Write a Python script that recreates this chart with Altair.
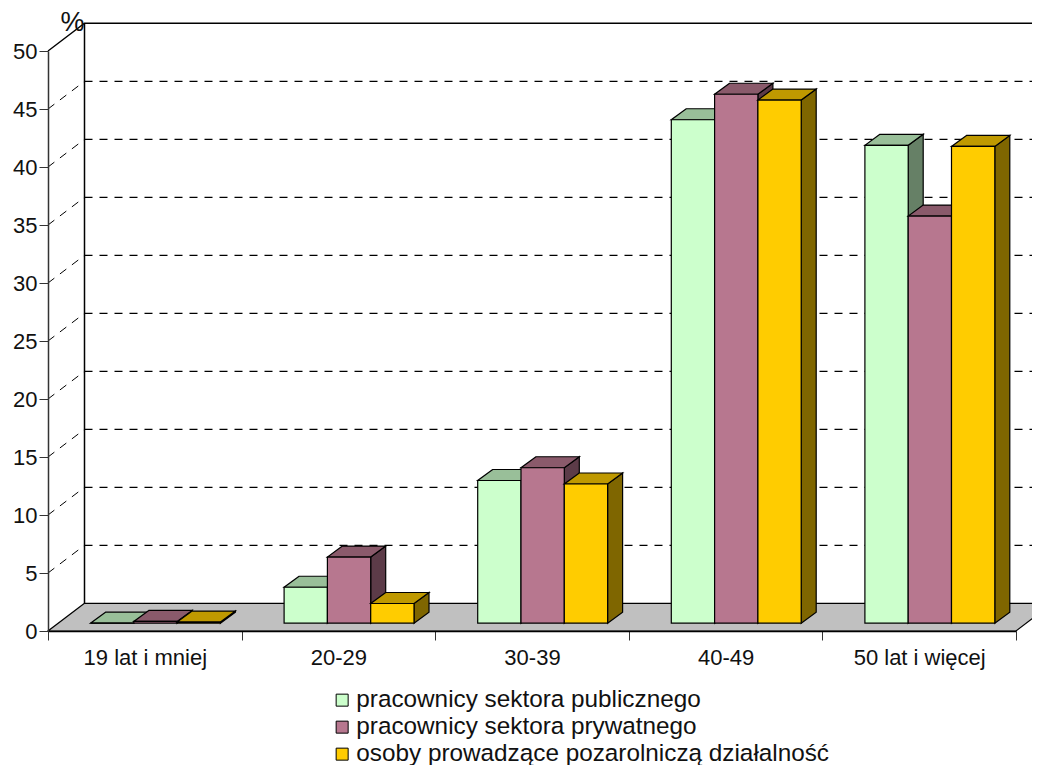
import json
import altair as alt
import pandas as pd

categories = ["19 lat i mniej", "20-29", "30-39", "40-49", "50 lat i więcej"]
series_names = ["pracownicy sektora publicznego", "pracownicy sektora prywatnego",
                "osoby prowadzące pozarolniczą działalność"]
publiczny = [0.0, 3.1, 12.3, 43.4, 41.2]
prywatny = [0.15, 5.7, 13.4, 45.6, 35.1]
pozarolniczy = [0.1, 1.7, 12.0, 45.1, 41.1]
series_values = [publiczny, prywatny, pozarolniczy]
front_colors = ["#CCFFCC", "#B7778F", "#FFCC00"]
top_colors = ["#99BF99", "#8A5A6B", "#BF9900"]
side_colors = ["#668066", "#5C3B48", "#7F6600"]
y_ticks = [0, 5, 10, 15, 20, 25, 30, 35, 40, 45, 50]

FONT = "Liberation Sans"
W, H = 968, 580
PX_X = W / 5
PX_Y = H / 50
WALL_DX = 36.5 / PX_X
WALL_DY = 27.7 / PX_Y
BAR_DX = 15 / PX_X
BAR_DY = 11 / PX_Y
BAR_START = 42.5 / PX_X
BAR_W = 43.3 / PX_X
LIFT = 7.8 / PX_Y

xs = alt.Scale(domain=[0, 5], nice=False, zero=False)
ys = alt.Scale(domain=[0, 50], nice=False, zero=False)
label_expr = json.dumps(categories + [""]) + "[round(datum.value)]"

axis_x = alt.Axis(values=[0, 1, 2, 3, 4, 5], labelExpr=label_expr, labelOffset=PX_X / 2,
                  labelAlign="center", labelFlush=False, labelOverlap=False, labelBound=False,
                  labelFont=FONT, labelFontSize=22, labelColor="#111111", labelPadding=7,
                  tickSize=9, tickColor="#333333", domainColor="black", domainWidth=1.5,
                  grid=False, title=None, zindex=1)
axis_y = alt.Axis(values=y_ticks, labelFont=FONT, labelFontSize=22, labelColor="#111111", labelPadding=2,
                  tickSize=9, tickColor="#333333", domainColor="#333333", domainWidth=1.5,
                  grid=False, title="%", titleAngle=0, titleFont=FONT, titleFontSize=27,
                  titleFontWeight="normal", titleX=24, titleY=-21, titleAlign="center",
                  titleBaseline="alphabetic", titleColor="#111111", zindex=1)
X = lambda f: alt.X(f, scale=xs, axis=axis_x)
Y = lambda f: alt.Y(f, scale=ys, axis=axis_y)

def lines(rows, dash=None, width=1.0, color="black"):
    df = pd.DataFrame(rows, columns=["id", "x", "y"])
    kw = dict(color=color, strokeWidth=width, interpolate="linear")
    if dash:
        kw["strokeDash"] = dash
    return alt.Chart(df).mark_line(**kw).encode(x=X("x:Q"), y=Y("y:Q"), detail="id:N")

def area_h(rows, fill):
    df = pd.DataFrame(rows, columns=["id", "y", "x", "x2"])
    return alt.Chart(df).mark_area(fill=fill, stroke="black", strokeWidth=1.2,
                                   orient="horizontal", interpolate="linear").encode(
        y=Y("y:Q"), x=X("x:Q"), x2="x2:Q", detail="id:N")

def area_v(rows, fill):
    df = pd.DataFrame(rows, columns=["id", "x", "y", "y2"])
    return alt.Chart(df).mark_area(fill=fill, stroke="black", strokeWidth=1.2,
                                   orient="vertical", interpolate="linear").encode(
        x=X("x:Q"), y=Y("y:Q"), y2="y2:Q", detail="id:N")

layers = []

# walls
grid_rows, diag_rows = [], []
for v in y_ticks[1:-1]:
    grid_rows += [(v, WALL_DX, v + WALL_DY), (v, 5 + WALL_DX, v + WALL_DY)]
    diag_rows += [(v, 0, v), (v, WALL_DX, v + WALL_DY)]
layers.append(lines([(0, WALL_DX, WALL_DY), (0, WALL_DX, 50 + WALL_DY)], width=1.5))
layers.append(lines(grid_rows, dash=[8, 7], width=1.2))
layers.append(lines(diag_rows, dash=[8, 7]))
layers.append(lines([(0, 0, 50), (0, WALL_DX, 50 + WALL_DY), (0, 5 + WALL_DX, 50 + WALL_DY)], width=1.4))

# floor
layers.append(area_h([(0, 0, 0, 5), (0, WALL_DY, WALL_DX, 5 + WALL_DX)], "#C0C0C0"))

# bars, painted back to front by series
fill_scale = alt.Scale(domain=series_names, range=front_colors)
legend = alt.Legend(orient="none", legendX=282, legendY=637, title=None, symbolType="square",
                    symbolSize=144, symbolStrokeColor="black", symbolStrokeWidth=1,
                    labelFont=FONT, labelFontSize=24.3, labelColor="#111111", labelOffset=2,
                    rowPadding=2, labelLimit=600)
for s, values in enumerate(series_values):
    front, top, side = [], [], []
    for c, v in enumerate(values):
        x0 = c + BAR_START + s * BAR_W
        x1 = x0 + BAR_W
        front.append(dict(x=x0, x2=x1, y=LIFT, y2=LIFT + v, series=series_names[s]))
        top += [(c, LIFT + v, x0, x1), (c, LIFT + v + BAR_DY, x0 + BAR_DX, x1 + BAR_DX)]
        side += [(c, x1, LIFT, LIFT + v), (c, x1 + BAR_DX, LIFT + BAR_DY, LIFT + v + BAR_DY)]
    layers.append(area_v(side, side_colors[s]))
    layers.append(area_h(top, top_colors[s]))
    layers.append(alt.Chart(pd.DataFrame(front)).mark_rect(stroke="black", strokeWidth=1.2).encode(
        x=X("x:Q"), x2="x2:Q", y=Y("y:Q"), y2="y2:Q",
        fill=alt.Fill("series:N", scale=fill_scale, legend=legend),
    ))

chart = alt.layer(*layers).properties(
    width=W, height=H,
    autosize=alt.AutoSizeParams(type="none"),
    padding={"left": 40, "top": 43, "right": 16, "bottom": 134},
    background="white",
).configure_view(stroke=None)

chart.save("out.html", embed_options={"renderer": "svg", "actions": False})
